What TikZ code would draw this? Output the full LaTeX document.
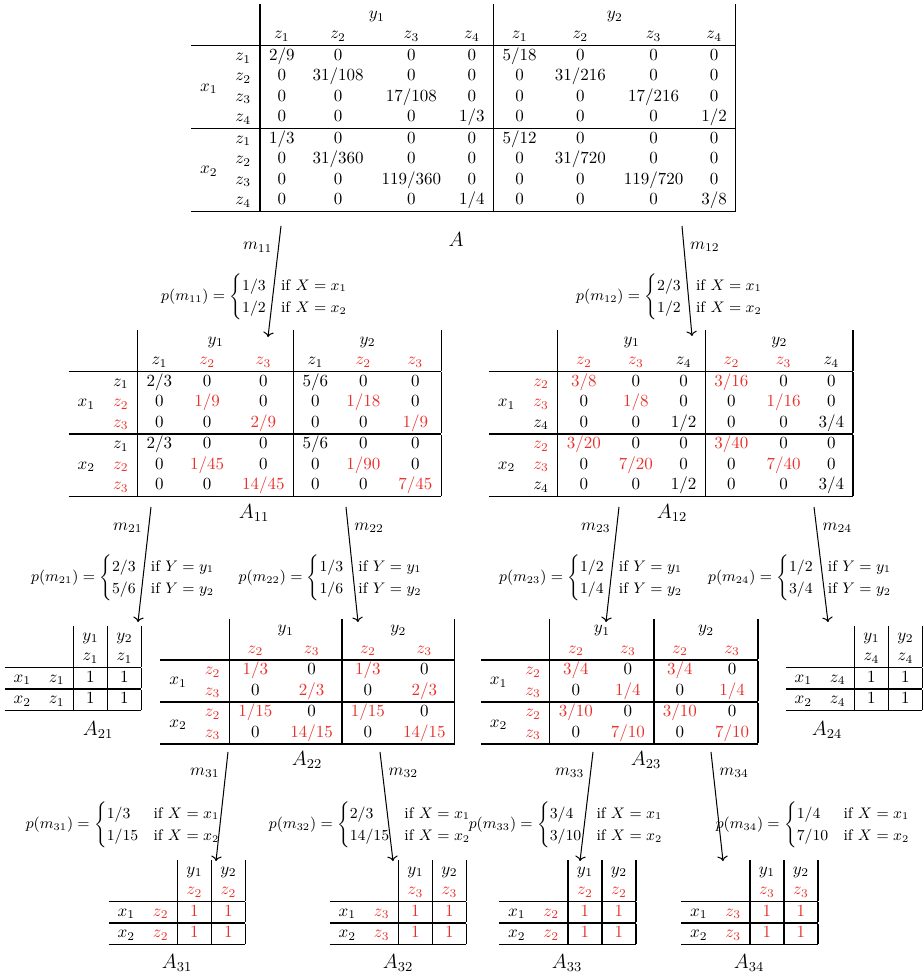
\documentclass[tikz,border=0pt]{standalone}
\usepackage{tikz}
\usetikzlibrary{arrows.meta,positioning,calc}
\usepackage{amsmath}
\usepackage{amssymb}
\definecolor{hilite}{HTML}{E8312B}
\setlength{\arrayrulewidth}{0.7pt}
\setlength{\tabcolsep}{5.3pt}
\newcommand{\redc}[1]{\textcolor{hilite}{#1}}
\newcommand{\xlow}[1]{\raisebox{-.5\normalbaselineskip}[0pt][0pt]{$#1$}}

\begin{document}
\begin{tikzpicture}[
  x=0.588pt, y=-0.588pt,
  tab/.style={inner sep=0pt},
  lab/.style={font=\large, inner sep=1pt},
  prob/.style={inner sep=0pt, font=\small},
  arr/.style={->, semithick},
]
\useasboundingbox (0,0) rectangle (924,977);

% level 0
\node[tab] (A) at (463.5,108) {%
\begin{tabular}{cc|cccc|cccc|}
 & & \multicolumn{4}{c|}{$y_1$} & \multicolumn{4}{c|}{$y_2$}\\
 & & $z_1$ & $z_2$ & $z_3$ & $z_4$ & $z_1$ & $z_2$ & $z_3$ & $z_4$\\ \hline
 & $z_1$ & 2/9 & 0 & 0 & 0 & 5/18 & 0 & 0 & 0\\
 \xlow{x_1} & $z_2$ & 0 & 31/108 & 0 & 0 & 0 & 31/216 & 0 & 0\\
 & $z_3$ & 0 & 0 & 17/108 & 0 & 0 & 0 & 17/216 & 0\\
 & $z_4$ & 0 & 0 & 0 & 1/3 & 0 & 0 & 0 & 1/2\\ \hline
 & $z_1$ & 1/3 & 0 & 0 & 0 & 5/12 & 0 & 0 & 0\\
 \xlow{x_2} & $z_2$ & 0 & 31/360 & 0 & 0 & 0 & 31/720 & 0 & 0\\
 & $z_3$ & 0 & 0 & 119/360 & 0 & 0 & 0 & 119/720 & 0\\
 & $z_4$ & 0 & 0 & 0 & 1/4 & 0 & 0 & 0 & 3/8\\ \hline
\end{tabular}};
\node[lab] (lA) at (456,240) {$A$};

% level 1
\node[tab] (A11) at (255,413.5) {%
\begin{tabular}{cc|ccc|ccc|}
 & & \multicolumn{3}{c|}{$y_1$} & \multicolumn{3}{c|}{$y_2$}\\
 & & $z_1$ & \redc{$z_2$} & \redc{$z_3$} & $z_1$ & \redc{$z_2$} & \redc{$z_3$}\\ \hline
 & $z_1$ & 2/3 & 0 & 0 & 5/6 & 0 & 0\\
 $x_1$ & \redc{$z_2$} & 0 & \redc{1/9} & 0 & 0 & \redc{1/18} & 0\\
 & \redc{$z_3$} & 0 & 0 & \redc{2/9} & 0 & 0 & \redc{1/9}\\ \hline
 & $z_1$ & 2/3 & 0 & 0 & 5/6 & 0 & 0\\
 $x_2$ & \redc{$z_2$} & 0 & \redc{1/45} & 0 & 0 & \redc{1/90} & 0\\
 & \redc{$z_3$} & 0 & 0 & \redc{14/45} & 0 & 0 & \redc{7/45}\\ \hline
\end{tabular}};
\node[lab] (lA11) at (254,513) {$A_{11}$};

\node[tab] (A12) at (671,413.5) {%
\begin{tabular}{cc|ccc|ccc|}
 & & \multicolumn{3}{c|}{$y_1$} & \multicolumn{3}{c|}{$y_2$}\\
 & & \redc{$z_2$} & \redc{$z_3$} & $z_4$ & \redc{$z_2$} & \redc{$z_3$} & $z_4$\\ \hline
 & \redc{$z_2$} & \redc{3/8} & 0 & 0 & \redc{3/16} & 0 & 0\\
 $x_1$ & \redc{$z_3$} & 0 & \redc{1/8} & 0 & 0 & \redc{1/16} & 0\\
 & $z_4$ & 0 & 0 & 1/2 & 0 & 0 & 3/4\\ \hline
 & \redc{$z_2$} & \redc{3/20} & 0 & 0 & \redc{3/40} & 0 & 0\\
 $x_2$ & \redc{$z_3$} & 0 & \redc{7/20} & 0 & 0 & \redc{7/40} & 0\\
 & $z_4$ & 0 & 0 & 1/2 & 0 & 0 & 3/4\\ \hline
\end{tabular}};
\node[lab] (lA12) at (672,513) {$A_{12}$};

% level 2
\node[tab] (A21) at (73,668.5) {%
\begin{tabular}{cc|c|c|}
 & & $y_1$ & $y_2$\\
 & & $z_1$ & $z_1$\\ \hline
 $x_1$ & $z_1$ & 1 & 1\\ \hline
 $x_2$ & $z_1$ & 1 & 1\\ \hline
\end{tabular}};
\node[lab] (lA21) at (98,730) {$A_{21}$};

\node[tab] (A22) at (307.5,681.5) {%
\begin{tabular}{cc|cc|cc|}
 & & \multicolumn{2}{c|}{$y_1$} & \multicolumn{2}{c|}{$y_2$}\\
 & & \redc{$z_2$} & \redc{$z_3$} & \redc{$z_2$} & \redc{$z_3$}\\ \hline
 \xlow{x_1} & \redc{$z_2$} & \redc{1/3} & 0 & \redc{1/3} & 0\\
 & \redc{$z_3$} & 0 & \redc{2/3} & 0 & \redc{2/3}\\ \hline
 \xlow{x_2} & \redc{$z_2$} & \redc{1/15} & 0 & \redc{1/15} & 0\\
 & \redc{$z_3$} & 0 & \redc{14/15} & 0 & \redc{14/15}\\ \hline
\end{tabular}};
\node[lab] (lA22) at (307,760) {$A_{22}$};

\node[tab] (A23) at (619.5,681.5) {%
\begin{tabular}{cc|cc|cc|}
 & & \multicolumn{2}{c|}{$y_1$} & \multicolumn{2}{c|}{$y_2$}\\
 & & \redc{$z_2$} & \redc{$z_3$} & \redc{$z_2$} & \redc{$z_3$}\\ \hline
 \xlow{x_1} & \redc{$z_2$} & \redc{3/4} & 0 & \redc{3/4} & 0\\
 & \redc{$z_3$} & 0 & \redc{1/4} & 0 & \redc{1/4}\\ \hline
 \xlow{x_2} & \redc{$z_2$} & \redc{3/10} & 0 & \redc{3/10} & 0\\
 & \redc{$z_3$} & 0 & \redc{7/10} & 0 & \redc{7/10}\\ \hline
\end{tabular}};
\node[lab] (lA23) at (646,760) {$A_{23}$};

\node[tab] (A24) at (854,668.5) {%
\begin{tabular}{cc|c|c|}
 & & $y_1$ & $y_2$\\
 & & $z_4$ & $z_4$\\ \hline
 $x_1$ & $z_4$ & 1 & 1\\ \hline
 $x_2$ & $z_4$ & 1 & 1\\ \hline
\end{tabular}};
\node[lab] (lA24) at (827,730) {$A_{24}$};

% level 3
\node[tab] (A31) at (177,902.5) {%
\begin{tabular}{cc|c|c|}
 & & $y_1$ & $y_2$\\
 & & \redc{$z_2$} & \redc{$z_2$}\\ \hline
 $x_1$ & \redc{$z_2$} & \redc{1} & \redc{1}\\ \hline
 $x_2$ & \redc{$z_2$} & \redc{1} & \redc{1}\\ \hline
\end{tabular}};
\node[lab] (lA31) at (177,963) {$A_{31}$};

\node[tab] (A32) at (398,902.5) {%
\begin{tabular}{cc|c|c|}
 & & $y_1$ & $y_2$\\
 & & \redc{$z_3$} & \redc{$z_3$}\\ \hline
 $x_1$ & \redc{$z_3$} & \redc{1} & \redc{1}\\ \hline
 $x_2$ & \redc{$z_3$} & \redc{1} & \redc{1}\\ \hline
\end{tabular}};
\node[lab] (lA32) at (398,963) {$A_{32}$};

\node[tab] (A33) at (567.5,902.5) {%
\begin{tabular}{cc|c|c|}
 & & $y_1$ & $y_2$\\
 & & \redc{$z_2$} & \redc{$z_2$}\\ \hline
 $x_1$ & \redc{$z_2$} & \redc{1} & \redc{1}\\ \hline
 $x_2$ & \redc{$z_2$} & \redc{1} & \redc{1}\\ \hline
\end{tabular}};
\node[lab] (lA33) at (567,963) {$A_{33}$};

\node[tab] (A34) at (749.5,902.5) {%
\begin{tabular}{cc|c|c|}
 & & $y_1$ & $y_2$\\
 & & \redc{$z_3$} & \redc{$z_3$}\\ \hline
 $x_1$ & \redc{$z_3$} & \redc{1} & \redc{1}\\ \hline
 $x_2$ & \redc{$z_3$} & \redc{1} & \redc{1}\\ \hline
\end{tabular}};
\node[lab] (lA34) at (749,963) {$A_{34}$};

% probabilities
\node[prob] (p11) at (255,297) {$p(m_{11}) = \begin{cases}1/3 & \text{if } X = x_1\\ 1/2 & \text{if } X = x_2\end{cases}$};
\node[prob] (p12) at (670,297) {$p(m_{12}) = \begin{cases}2/3 & \text{if } X = x_1\\ 1/2 & \text{if } X = x_2\end{cases}$};
\node[prob] (p21) at (123.5,578) {$p(m_{21}) = \begin{cases}2/3 & \text{if } Y = y_1\\ 5/6 & \text{if } Y = y_2\end{cases}$};
\node[prob] (p22) at (331,578) {$p(m_{22}) = \begin{cases}1/3 & \text{if } Y = y_1\\ 1/6 & \text{if } Y = y_2\end{cases}$};
\node[prob] (p23) at (591.5,578) {$p(m_{23}) = \begin{cases}1/2 & \text{if } Y = y_1\\ 1/4 & \text{if } Y = y_2\end{cases}$};
\node[prob] (p24) at (800.5,578) {$p(m_{24}) = \begin{cases}1/2 & \text{if } Y = y_1\\ 3/4 & \text{if } Y = y_2\end{cases}$};
\node[prob] (p31) at (123.5,825) {$p(m_{31}) = \begin{cases}1/3 & \text{if } X = x_1\\ 1/15 & \text{if } X = x_2\end{cases}$};
\node[prob] (p32) at (370.5,825) {$p(m_{32}) = \begin{cases}2/3 & \text{if } X = x_1\\ 14/15 & \text{if } X = x_2\end{cases}$};
\node[prob] (p33) at (566.5,825) {$p(m_{33}) = \begin{cases}3/4 & \text{if } X = x_1\\ 3/10 & \text{if } X = x_2\end{cases}$};
\node[prob] (p34) at (813.5,825) {$p(m_{34}) = \begin{cases}1/4 & \text{if } X = x_1\\ 7/10 & \text{if } X = x_2\end{cases}$};

% arrow ends
\coordinate (s11) at (281,226); \coordinate (e11) at (268,337);
\coordinate (s12) at (682,226); \coordinate (e12) at (692,336);
\coordinate (s21) at (151,507); \coordinate (e21) at (138,622);
\coordinate (s22) at (346,507); \coordinate (e22) at (358,622);
\coordinate (s23) at (619,507); \coordinate (e23) at (606,622);
\coordinate (s24) at (814,507); \coordinate (e24) at (828,622);
\coordinate (s31) at (228,752); \coordinate (e31) at (216,861);
\coordinate (s32) at (380,752); \coordinate (e32) at (393,861);
\coordinate (s33) at (593,752); \coordinate (e33) at (580,861);
\coordinate (s34) at (711,752); \coordinate (e34) at (723,861);

\draw[arr] (s11) -- node[pos=0.19, left] {$m_{11}$} (e11);
\draw[arr] (s12) -- node[pos=0.19, right] {$m_{12}$} (e12);
\draw[arr] (s21) -- node[pos=0.18, left] {$m_{21}$} (e21);
\draw[arr] (s22) -- node[pos=0.18, right] {$m_{22}$} (e22);
\draw[arr] (s23) -- node[pos=0.18, left] {$m_{23}$} (e23);
\draw[arr] (s24) -- node[pos=0.18, right] {$m_{24}$} (e24);
\draw[arr] (s31) -- node[pos=0.19, left] {$m_{31}$} (e31);
\draw[arr] (s32) -- node[pos=0.19, right] {$m_{32}$} (e32);
\draw[arr] (s33) -- node[pos=0.19, left] {$m_{33}$} (e33);
\draw[arr] (s34) -- node[pos=0.19, right] {$m_{34}$} (e34);

\end{tikzpicture}
\end{document}
